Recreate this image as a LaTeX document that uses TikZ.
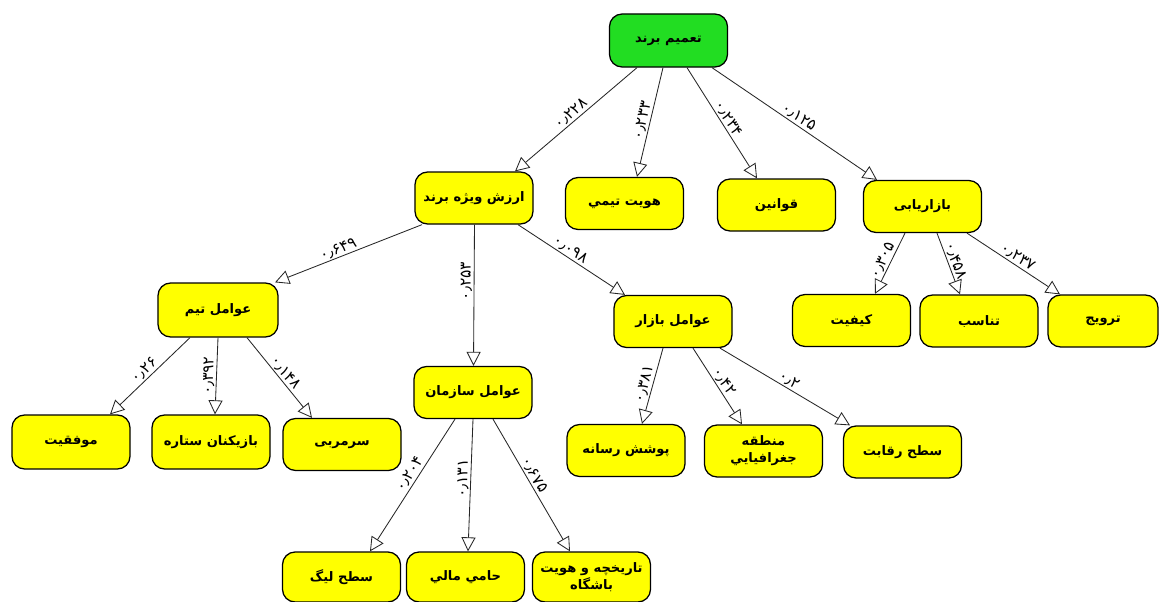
\documentclass[tikz,border=0pt]{standalone}
\usepackage{fontspec}
\TeXXeTstate=1
\newfontfamily\arabicfont[Script=Arabic]{DejaVu Sans}
\usetikzlibrary{arrows.meta,calc}
\newcommand\pers[1]{{\arabicfont\bfseries\beginR #1\endR}}
\newcommand\edgenum[1]{{\arabicfont #1}}
\definecolor{boxyellow}{RGB}{255,255,0}
\definecolor{boxgreen}{RGB}{34,221,34}
\begin{document}
\begin{tikzpicture}[x=0.025cm,y=-0.025cm,
  box/.style={draw=black,line width=0.9pt,rounded corners=9pt,fill=boxyellow,
    minimum width=2.95cm,minimum height=1.3cm,inner sep=1pt,
    font=\fontsize{9.3}{12}\selectfont,align=center},
  link/.style={draw=black!85,line width=0.6pt,-{Triangle[open,length=10pt,width=10pt]}},
  wt/.style={sloped,above,font=\fontsize{11}{12}\selectfont,inner sep=1pt}]
\useasboundingbox[fill=white] (0,0) rectangle (1160,601);

% nodes
\node[box,fill=boxgreen,minimum height=1.325cm] (root) at (668.5,40.5) {\pers{تعمیم برند}};
\node[box] (arzesh) at (474,198) {\pers{ارزش ویژه برند}};
\node[box] (hoviat) at (624.5,203.5) {\pers{هویت تیمي}};
\node[box] (ghavanin) at (776.5,205) {\pers{قوانین}};
\node[box] (bazaryabi) at (922.5,206.5) {\pers{بازاریابی}};

\node[box,minimum width=3cm,minimum height=1.35cm] (team) at (218,310) {\pers{عوامل تیم}};
\node[box] (sazman) at (473,392.5) {\pers{عوامل سازمان}};
\node[box] (bazar) at (673,321.5) {\pers{عوامل بازار}};
\node[box] (keyfiat) at (851.5,320.5) {\pers{کیفیت}};
\node[box] (tanasob) at (979,321) {\pers{تناسب}};
\node[box,minimum width=2.75cm] (tarvij) at (1103,321) {\pers{ترویج}};

\node[box,minimum height=1.35cm] (movafaghiat) at (71,442) {\pers{موفقیت}};
\node[box,minimum height=1.35cm] (bazikonan) at (211,442) {\pers{بازیکنان ستاره}};
\node[box] (sarmorabi) at (342,444.5) {\pers{سرمربی}};
\node[box] (poushesh) at (626,450.5) {\pers{پوشش رسانه}};
\node[box] (mantaghe) at (763.5,451) {\pers{منطقه}\\\pers{جغرافیایي}};
\node[box] (reghabat) at (902.5,452) {\pers{سطح رقابت}};

\node[box,minimum height=1.25cm] (lig) at (341.5,577) {\pers{سطح لیگ}};
\node[box,minimum height=1.25cm] (hami) at (465.5,577) {\pers{حامي مالي}};
\node[box,minimum height=1.25cm] (tarikhche) at (591.5,577) {\pers{تاریخچه و هویت}\\\pers{باشگاه}};

% connectors
\draw[link] ($(root.south)+(-31.5,0)$) -- node[wt]{\edgenum{۰٫۲۲۸}} ($(arzesh.north)+(41,0)$);
\draw[link] ($(root.south)+(-5.5,0)$) -- node[wt]{\edgenum{۰٫۲۳۳}} ($(hoviat.north)+(12.5,0)$);
\draw[link] ($(root.south)+(18.5,0)$) -- node[wt]{\edgenum{۰٫۲۳۴}} ($(ghavanin.north)+(-19.5,0)$);
\draw[link] ($(root.south)+(43.5,0)$) -- node[wt]{\edgenum{۰٫۱۲۵}} ($(bazaryabi.north)+(-45.5,0)$);

\draw[link] ($(arzesh.south)+(-52,0)$) -- node[wt,pos=0.55]{\edgenum{۰٫۶۴۹}} ($(team.north)+(57,0)$);
\draw[link] ($(arzesh.south)+(0.5,0)$) -- node[wt,pos=0.4]{\edgenum{۰٫۲۵۳}} ($(sazman.north)+(0.5,0)$);
\draw[link] ($(arzesh.south)+(44,0)$) -- node[wt,pos=0.45]{\edgenum{۰٫۰۹۸}} ($(bazar.north)+(-48,0)$);

\draw[link] ($(team.south)+(-28,0)$) -- node[wt]{\edgenum{۰٫۲۶}} ($(movafaghiat.north)+(39,0)$);
\draw[link] ($(team.south)+(0,0)$) -- node[wt]{\edgenum{۰٫۳۹۲}} ($(bazikonan.north)+(4,0)$);
\draw[link] ($(team.south)+(29,0)$) -- node[wt]{\edgenum{۰٫۱۴۸}} ($(sarmorabi.north)+(-30,0)$);

\draw[link] ($(sazman.south)+(-18,0)$) -- node[wt,pos=0.45]{\edgenum{۰٫۲۰۴}} ($(lig.north)+(28.5,0)$);
\draw[link] ($(sazman.south)+(0,0)$) -- node[wt,pos=0.45]{\edgenum{۰٫۱۳۱}} ($(hami.north)+(2.5,0)$);
\draw[link] ($(sazman.south)+(20,0)$) -- node[wt,pos=0.45]{\edgenum{۰٫۶۷۵}} ($(tarikhche.north)+(-21.5,0)$);

\draw[link] ($(bazar.south)+(-10,0)$) -- node[wt]{\edgenum{۰٫۳۸۱}} ($(poushesh.north)+(16,0)$);
\draw[link] ($(bazar.south)+(20,0)$) -- node[wt]{\edgenum{۰٫۴۲}} ($(mantaghe.north)+(-21.5,0)$);
\draw[link] ($(bazar.south)+(47,0)$) -- node[wt]{\edgenum{۰٫۲}} ($(reghabat.north)+(-52.5,0)$);

\draw[link] ($(bazaryabi.south)+(-17.5,0)$) -- node[wt]{\edgenum{۰٫۳۰۵}} ($(keyfiat.north)+(23.5,0)$);
\draw[link] ($(bazaryabi.south)+(14.5,0)$) -- node[wt]{\edgenum{۰٫۴۵۸}} ($(tanasob.north)+(-19,0)$);
\draw[link] ($(bazaryabi.south)+(44.5,0)$) -- node[wt]{\edgenum{۰٫۲۳۷}} ($(tarvij.north)+(-43,0)$);
\end{tikzpicture}
\end{document}
